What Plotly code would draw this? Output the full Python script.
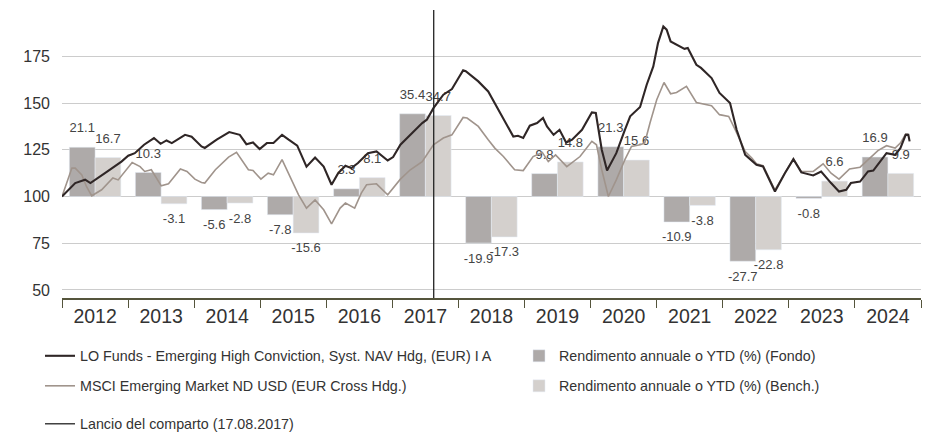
import plotly.graph_objects as go
import pandas as pd

# ---------------- data ----------------
years = [2012, 2013, 2014, 2015, 2016, 2017, 2018, 2019, 2020, 2021, 2022, 2023, 2024]
fund_ret = [21.1, 10.3, -5.6, -7.8, 3.3, 35.4, -19.9, 9.8, 21.3, -10.9, -27.7, -0.8, 16.9]
bench_ret = [16.7, -3.1, -2.8, -15.6, 8.1, 34.7, -17.3, 14.8, 15.6, -3.8, -22.8, 6.6, 9.9]

fund_t = [2012.00, 2012.20, 2012.35, 2012.43, 2012.65, 2012.90, 2013.00, 2013.10, 2013.24, 2013.39,
          2013.49, 2013.58, 2013.66, 2013.86, 2013.96, 2014.11, 2014.16, 2014.34, 2014.53, 2014.69,
          2014.79, 2014.89, 2014.99, 2015.10, 2015.20, 2015.33, 2015.43, 2015.56, 2015.70, 2015.83,
          2015.96, 2016.08, 2016.18, 2016.29, 2016.38, 2016.48, 2016.63, 2016.76, 2016.93, 2017.01,
          2017.12, 2017.30, 2017.45, 2017.52, 2017.62, 2017.77, 2017.90, 2018.00, 2018.07, 2018.11,
          2018.30, 2018.45, 2018.55, 2018.68, 2018.83, 2018.90, 2018.98, 2019.08, 2019.19, 2019.28,
          2019.34, 2019.44, 2019.53, 2019.63, 2019.72, 2019.87, 2020.02, 2020.08, 2020.17, 2020.25,
          2020.39, 2020.52, 2020.60, 2020.75, 2020.85, 2020.95, 2021.02, 2021.10, 2021.15, 2021.21,
          2021.42, 2021.47, 2021.60, 2021.67, 2021.83, 2021.95, 2022.11, 2022.21, 2022.34, 2022.51,
          2022.61, 2022.79, 2022.94, 2023.07, 2023.19, 2023.37, 2023.49, 2023.64, 2023.76, 2023.87,
          2023.94, 2024.08, 2024.20, 2024.28, 2024.48, 2024.61, 2024.69, 2024.77, 2024.81, 2024.83]
fund_nav = [100, 107.2, 109, 107.2, 112.5, 118.7, 121.8, 123.2, 127.7, 131.3,
            128.2, 130, 128.6, 133, 132, 126.8, 126, 130.4, 134.5, 133,
            128, 128.9, 125.4, 128.6, 128.6, 133, 130.4, 127.2, 116, 120.9,
            116, 106.3, 112.5, 116.5, 115.2, 117.9, 123.2, 124.1, 119.3, 121.1,
            127.7, 134.3, 139.3, 141.1, 147.3, 154.5, 157.5, 163.4, 167.5, 167,
            161.6, 156.2, 150, 142, 132.1, 132.5, 131.3, 137.9, 139.3, 142,
            137.5, 133, 135.7, 128.9, 130.4, 135.7, 145, 144.7, 125, 113.9,
            123.2, 135.7, 142.9, 147.9, 159.8, 169.6, 182.2, 191, 189.3, 183,
            179, 179.5, 170.5, 168.8, 163.4, 155.4, 150, 135.7, 122.3, 117,
            116.1, 102.7, 112.5, 120, 112.9, 111.3, 113.4, 107.2, 102.7, 103.6,
            107.2, 108, 113.4, 113.9, 123.2, 122.3, 125.9, 133, 133, 129.5]

bench_t = [2012.00, 2012.15, 2012.20, 2012.30, 2012.37, 2012.45, 2012.60, 2012.77, 2012.85, 2013.06,
           2013.18, 2013.25, 2013.35, 2013.50, 2013.61, 2013.79, 2013.89, 2014.01, 2014.11, 2014.16,
           2014.32, 2014.52, 2014.64, 2014.72, 2014.82, 2014.89, 2015.01, 2015.12, 2015.20, 2015.33,
           2015.45, 2015.58, 2015.70, 2015.83, 2015.96, 2016.08, 2016.21, 2016.29, 2016.43, 2016.53,
           2016.61, 2016.76, 2016.93, 2016.99, 2017.12, 2017.27, 2017.45, 2017.62, 2017.77, 2017.90,
           2018.07, 2018.13, 2018.30, 2018.45, 2018.55, 2018.68, 2018.85, 2018.98, 2019.13, 2019.27,
           2019.36, 2019.47, 2019.54, 2019.64, 2019.84, 2020.02, 2020.09, 2020.17, 2020.27, 2020.39,
           2020.52, 2020.62, 2020.75, 2020.82, 2020.90, 2021.00, 2021.11, 2021.21, 2021.30, 2021.45,
           2021.60, 2021.83, 2021.95, 2022.09, 2022.19, 2022.34, 2022.44, 2022.51, 2022.61, 2022.79,
           2022.94, 2023.07, 2023.19, 2023.37, 2023.52, 2023.64, 2023.76, 2023.92, 2024.08, 2024.20,
           2024.35, 2024.48, 2024.61, 2024.69, 2024.77, 2024.81]
bench_nav = [100, 115.2, 115.2, 111.6, 105.4, 100.4, 103.6, 109.9, 108.9, 118.2,
             116, 113.4, 114.3, 105.7, 106.8, 114.7, 113.4, 109.3, 107.5, 107.2,
             114.3, 121.1, 123.6, 119.7, 114.3, 113.9, 109.3, 112.5, 111.6, 119.7,
             110.7, 100.9, 93.8, 98.2, 92.9, 85.4, 93.8, 96.5, 93.8, 101.8,
             106.3, 106.8, 100.9, 103.6, 109.3, 114.3, 118.7, 127.7, 131.3, 133,
             142.3, 142, 137.5, 130.4, 125.9, 121.4, 114.3, 113.9, 121.4, 123.6,
             118.7, 122.3, 119.7, 116, 121.4, 129.5, 127.7, 114.3, 100, 108.9,
             119.7, 126.8, 127.7, 128.6, 139.3, 151.8, 161, 155, 155.7, 158.9,
             150.3, 148.6, 143.8, 142.9, 135.7, 124.1, 120.6, 117.5, 116.5, 103.5,
             112.5, 120, 113.4, 113.4, 117.5, 112.5, 109.3, 114.7, 115.7, 119.7,
             124.6, 127.2, 125.9, 128.6, 133.4, 133.4]

launch_date = "2017-08-17"
y_ticks = [50, 75, 100, 125, 150, 175]

fund_name = "LO Funds - Emerging High Conviction, Syst. NAV Hdg, (EUR) I A"
bench_name = "MSCI Emerging Market ND USD (EUR Cross Hdg.)"
fund_bar_name = "Rendimento annuale o YTD (%) (Fondo)"
bench_bar_name = "Rendimento annuale o YTD (%) (Bench.)"
launch_name = "Lancio del comparto (17.08.2017)"

# ---------------- helpers ----------------
def to_date(t):
    y = int(t)
    return pd.Timestamp(y, 1, 1) + pd.Timedelta(days=(t - y) * 365.25)

NARROW = "Liberation Sans Narrow, Arial Narrow, Liberation Sans, sans-serif"
REGULAR = "Liberation Sans, Arial, sans-serif"
C_FUND = "#2f2626"
C_BENCH = "#a0948c"
C_BAR_F = "#aeaaa9"
C_BAR_B = "#d4d0cd"
C_AXIS = "#55553c"

NAV_RANGE = [45.7, 199.8]
BAR_SCALE = 1.25
BAR_RANGE = [(NAV_RANGE[0] - 100) / BAR_SCALE, (NAV_RANGE[1] - 100) / BAR_SCALE]

year_mid = [pd.Timestamp(y, 7, 2) for y in years]
bar_half = pd.Timedelta(days=0.195 * 365.25)

fig = go.Figure()

# bars (main y axis, drawn underneath)
fig.add_trace(go.Bar(x=year_mid, y=fund_ret, name=fund_bar_name, marker_color=C_BAR_F,
                     yaxis="y", legend="legend2", hoverinfo="skip"))
fig.add_trace(go.Bar(x=year_mid, y=bench_ret, name=bench_bar_name, marker_color=C_BAR_B,
                     yaxis="y", legend="legend4", hoverinfo="skip"))

# bar value labels
def label_trace(vals, sign):
    xs = [m + sign * bar_half for m in year_mid]
    pos = ["top center" if v >= 0 else "bottom center" for v in vals]
    sizes = [17 if v >= 0 else 14 for v in vals]
    return go.Scatter(x=xs, y=vals, mode="markers+text", text=[f"{v:.1f}" for v in vals],
                      textposition=pos, marker=dict(size=sizes, opacity=0),
                      textfont=dict(family=NARROW, size=13, color="#444444"),
                      showlegend=False, hoverinfo="skip", yaxis="y", cliponaxis=False)

fig.add_trace(label_trace(fund_ret, -1))
fig.add_trace(label_trace(bench_ret, 1))

# lines (overlay axis, drawn on top)
fig.add_trace(go.Scatter(x=[to_date(t) for t in bench_t], y=bench_nav, mode="lines",
                         name=bench_name, line=dict(color=C_BENCH, width=1.6),
                         yaxis="y2", legend="legend3"))
fig.add_trace(go.Scatter(x=[to_date(t) for t in fund_t], y=fund_nav, mode="lines",
                         name=fund_name, line=dict(color=C_FUND, width=2.1),
                         yaxis="y2", legend="legend"))
fig.add_trace(go.Scatter(x=[launch_date, launch_date], y=NAV_RANGE, mode="lines",
                         name=launch_name, line=dict(color="#222222", width=1.3),
                         yaxis="y2", legend="legend5", hoverinfo="skip"))

leg_common = dict(font=dict(family=NARROW, size=14.3, color="#333333"), bgcolor="rgba(0,0,0,0)",
                  xanchor="left", yanchor="middle", orientation="h")

W, H = 930, 449

fig.update_layout(
    width=W, height=H, autosize=False,
    margin=dict(l=62, r=9, t=10, b=151),
    paper_bgcolor="white", plot_bgcolor="white",
    barmode="group", bargap=0.22, bargroupgap=0,
    font=dict(family=NARROW, color="#333333"),
    xaxis=dict(type="date", range=["2012-01-01", "2025-01-01"], dtick="M12", tick0="2012-01-01",
               tickformat="%Y", ticklabelmode="period", ticks="outside", ticklen=8, tickwidth=1.3,
               tickcolor=C_AXIS, showline=True, linecolor=C_AXIS, linewidth=1.5,
               showgrid=False, zeroline=False, automargin=False, ticklabelstandoff=-8,
               tickfont=dict(family=NARROW, size=19.5, color="#333333")),
    yaxis=dict(range=BAR_RANGE, showgrid=False, zeroline=False, showticklabels=False, ticks="",
               automargin=False),
    yaxis2=dict(range=NAV_RANGE, overlaying="y", side="left", tickvals=y_ticks,
                showgrid=True, gridcolor="#cccccc", gridwidth=1, zeroline=False, ticks="",
                ticklabelstandoff=11, automargin=False,
                tickfont=dict(family=REGULAR, size=16, color="#333333")),
    legend=dict(x=-0.0256, y=-0.2014, **leg_common),
    legend2=dict(x=0.532, y=-0.2014, **leg_common),
    legend3=dict(x=-0.0256, y=-0.3056, **leg_common),
    legend4=dict(x=0.532, y=-0.3056, **leg_common),
    legend5=dict(x=-0.0256, y=-0.4375, **leg_common),
    showlegend=True,
)

post = ("document.documentElement.style.margin='0';document.documentElement.style.overflow='hidden';"
        "document.body.style.margin='0';document.body.style.padding='0';"
        "document.body.style.overflow='hidden';"
        "var gd=document.getElementById('{plot_id}');"
        "gd.style.position='fixed';gd.style.left='0px';gd.style.top='0px';"
        "return Plotly.relayout(gd,{width:%d,height:%d});" % (W, H))

fig.write_html("out.html", config={"responsive": False, "displayModeBar": False},
               post_script=post)
